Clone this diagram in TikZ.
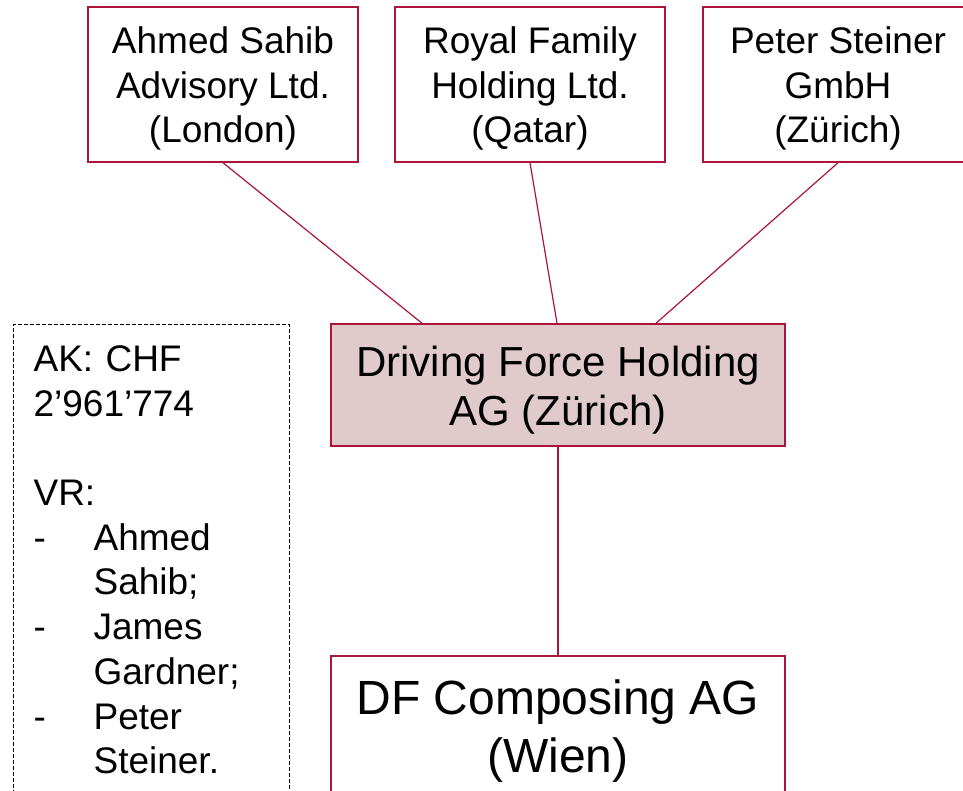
\documentclass[tikz,border=0pt]{standalone}
\usepackage{fontspec}
\setmainfont{Liberation Sans}
\definecolor{rahmen}{RGB}{172,20,60}
\definecolor{fuellung}{RGB}{224,202,204}
\newcommand\bildbreite{963pt}
\newcommand\bildhoehe{790pt}
\newcommand\boxbreite{270pt}
\newcommand\boxhoehe{155pt}
\newcommand\hauptbreite{454pt}
\newcommand\einzug{60pt}
\newcommand\oben{\rule{0pt}{0.95em}}

\begin{document}
\begin{tikzpicture}[yscale = -1,
	firma/.style = {draw = rahmen, line width = 1.5pt, align = center, inner sep = 0pt,
		minimum width = \boxbreite, minimum height = \boxhoehe, font = \fontsize{37pt}{44.5pt}\selectfont},
	linie/.style = {draw = rahmen, line width = 1.2pt}]
	\useasboundingbox (0, 0) rectangle (\bildbreite, \bildhoehe);
	\clip (0, 0) rectangle (\bildbreite, \bildhoehe);

	% Gesellschafter:
	\node [firma] (ahmed) at (223pt, 84.5pt) {\oben Ahmed Sahib\\Advisory Ltd.\\(London)};
	\node [firma] (royal) at (530pt, 84.5pt) {\oben Royal Family\\Holding Ltd.\\(Qatar)};
	\node [firma] (peter) at (838pt, 84.5pt) {\oben Peter Steiner\\GmbH\\(Zürich)};

	% Holding und Tochter:
	\node [firma, fill = fuellung, minimum width = \hauptbreite, minimum height = 122pt,
		font = \fontsize{42pt}{49pt}\selectfont] (holding) at (558pt, 385pt) {\oben Driving Force Holding\\AG (Zürich)};
	\node [firma, minimum width = \hauptbreite, minimum height = 140pt,
		font = \fontsize{48pt}{58pt}\selectfont] (composing) at (558pt, 726pt) {\oben DF Composing AG\\(Wien)};

	% Verbindungen
	\draw [linie] (ahmed.south) -- ([xshift = -136pt] holding.north);
	\draw [linie] (royal.south) -- ([xshift = -1pt] holding.north);
	\draw [linie] (peter.south) -- ([xshift = 98pt] holding.north);
	\draw [linie] (holding.south) -- (composing.north);

	% Aktienkapital und Verwaltungsrat
	\node [draw, dash pattern = on 4pt off 2pt, line width = 1.2pt, anchor = north west,
		text width = 236pt, inner xsep = 20pt, inner ysep = 21pt, align = left,
		font = \fontsize{37pt}{44.7pt}\selectfont] (vr) at (13pt, 324pt) {AK: CHF\\2’961’774\\[44.7pt]VR:\\
		\makebox[\einzug][l]{-}Ahmed\\\hspace*{\einzug}Sahib;\\
		\makebox[\einzug][l]{-}James\\\hspace*{\einzug}Gardner;\\
		\makebox[\einzug][l]{-}Peter\\\hspace*{\einzug}Steiner.};
\end{tikzpicture}
\end{document}
